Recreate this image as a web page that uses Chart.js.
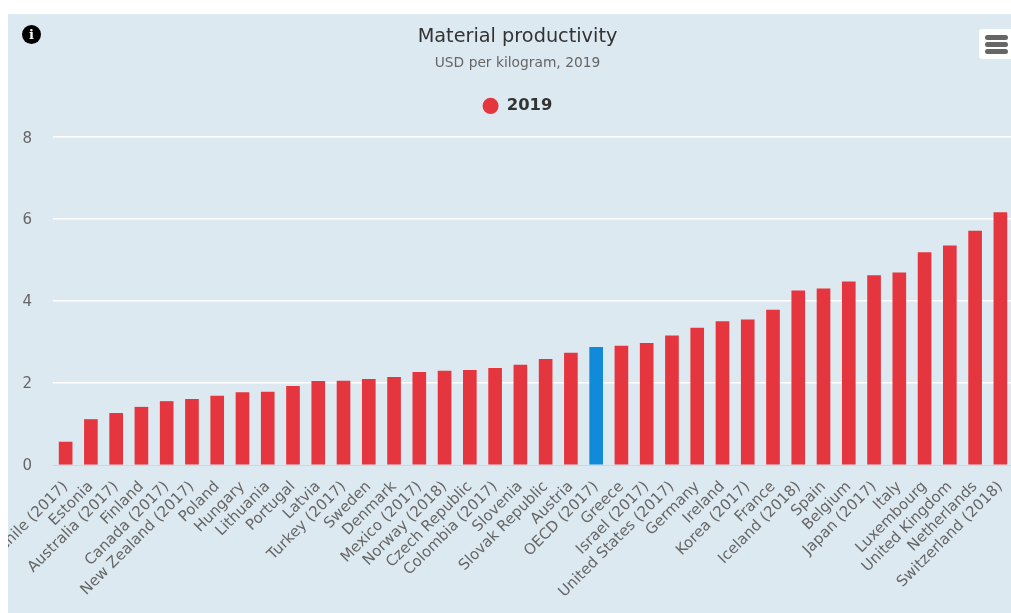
<!DOCTYPE html>
<html>
<head>
<meta charset="utf-8">
<title>Material productivity</title>
<script src="https://cdn.jsdelivr.net/npm/chart.js@4"></script>
<style>
  html, body { margin: 0; padding: 0; background: #fff; overflow: hidden; height: 100%; }
  #wrap { position: absolute; left: 8px; top: 14px; width: 1019px; height: 599px; background: #dde9f1; }
  #info { position: absolute; left: 14px; top: 11px; width: 19px; height: 19px; border-radius: 50%; background: #000; color: #fff;
    font: bold 13px/19px "DejaVu Serif", serif; text-align: center; }
  #menu { position: absolute; left: 971px; top: 15px; width: 48px; height: 30px; background: #fff; border-radius: 3px; }
  #menu span { position: absolute; left: 6px; width: 23px; height: 5px; border-radius: 2.5px; background: #666; }
</style>
</head>
<body>
<div id="wrap">
  <canvas id="chart" width="1019" height="599"></canvas>
  <div id="info">i</div>
  <div id="menu"><span style="top:6px"></span><span style="top:13px"></span><span style="top:20px"></span></div>
</div>
<script>
var countries = ['Chile (2017)', 'Estonia', 'Australia (2017)', 'Finland', 'Canada (2017)', 'New Zealand (2017)', 'Poland', 'Hungary',
  'Lithuania', 'Portugal', 'Latvia', 'Turkey (2017)', 'Sweden', 'Denmark', 'Mexico (2017)', 'Norway (2018)', 'Czech Republic',
  'Colombia (2017)', 'Slovenia', 'Slovak Republic', 'Austria', 'OECD (2017)', 'Greece', 'Israel (2017)', 'United States (2017)',
  'Germany', 'Ireland', 'Korea (2017)', 'France', 'Iceland (2018)', 'Spain', 'Belgium', 'Japan (2017)', 'Italy', 'Luxembourg',
  'United Kingdom', 'Netherlands', 'Switzerland (2018)'];
var values2019 = [0.56, 1.11, 1.26, 1.41, 1.55, 1.6, 1.68, 1.77, 1.78, 1.92, 2.04, 2.05, 2.09, 2.14, 2.26, 2.29, 2.31, 2.36, 2.44,
  2.58, 2.73, 2.87, 2.9, 2.97, 3.15, 3.34, 3.5, 3.54, 3.78, 4.25, 4.3, 4.47, 4.62, 4.69, 5.18, 5.35, 5.71, 6.16];
var yTicks = [0, 2, 4, 6, 8];

var font = '"DejaVu Sans", sans-serif';
var red = '#e5363f';
var blue = '#0f8bd9';

// extra room under the legend, before the plot starts
var legendGap = {
  id: 'legendGap',
  beforeInit: function (chart) {
    var fit = chart.legend.fit;
    chart.legend.fit = function () {
      fit.call(this);
      this.height += 13;
    };
  },
};

var ctx = document.getElementById('chart').getContext('2d');
var myChart = new Chart(ctx, {
  type: 'bar',
  data: {
    labels: countries,
    datasets: [
      {
        label: '2019',
        data: values2019,
        backgroundColor: countries.map(function (c) { return c.indexOf('OECD') === 0 ? blue : red; }),
        barThickness: 13,
        borderWidth: 0,
      },
    ],
  },
  plugins: [legendGap],
  options: {
    responsive: false,
    animation: false,
    layout: { padding: { top: 11, right: 0, left: 0, bottom: 0 } },
    plugins: {
      tooltip: { enabled: false },
      title: {
        display: true,
        text: 'Material productivity',
        color: '#333333',
        font: { family: font, size: 19.3, weight: 'normal' },
        padding: { top: 0, bottom: 7 },
      },
      subtitle: {
        display: true,
        text: 'USD per kilogram, 2019',
        color: '#666666',
        font: { family: font, size: 13.8, weight: 'normal' },
        padding: { top: 0, bottom: 16 },
      },
      legend: {
        display: true,
        position: 'top',
        onClick: null,
        labels: {
          usePointStyle: true,
          pointStyle: 'circle',
          pointStyleWidth: 16,
          boxHeight: 11.5,
          color: '#333333',
          font: { family: font, size: 16.4, weight: 'bold' },
          padding: 10,
          generateLabels: function () {
            return [{ text: '2019', fillStyle: red, strokeStyle: red, lineWidth: 0, pointStyle: 'circle', fontColor: '#333333' }];
          },
        },
      },
    },
    scales: {
      x: {
        offset: true,
        grid: { display: false, drawTicks: false },
        border: { display: true, color: '#ccd6eb', width: 1 },
        ticks: {
          autoSkip: false,
          minRotation: 45,
          maxRotation: 45,
          padding: 13,
          color: '#666666',
          font: { family: font, size: 15 },
        },
        afterFit: function (scale) {
          scale.height = 148;
          scale.paddingLeft = 0;
          scale.paddingRight = 14;
        },
      },
      y: {
        min: 0,
        max: 8,
        afterBuildTicks: function (scale) {
          scale.ticks = yTicks.map(function (v) { return { value: v }; });
        },
        grid: {
          color: function (c) { return c.tick.value === 0 ? 'rgba(0,0,0,0)' : '#ffffff'; },
          lineWidth: 1.5,
          drawTicks: false,
        },
        border: { display: false },
        ticks: {
          padding: 21,
          labelOffset: 1.5,
          color: '#666666',
          font: { family: font, size: 15 },
          align: 'center',
          crossAlign: 'near',
          callback: function (v) { return v; },
        },
        afterFit: function (scale) {
          scale.width = 45;
        },
      },
    },
  },
});
</script>
</body>
</html>
